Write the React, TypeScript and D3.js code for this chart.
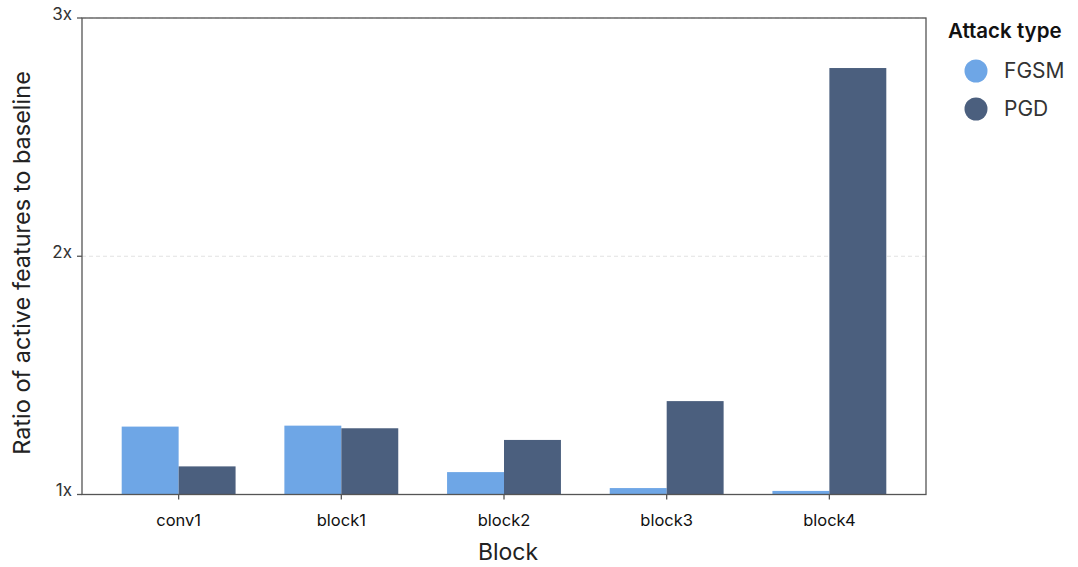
import React from "react";
import * as d3 from "d3";

const blocks = ["conv1", "block1", "block2", "block3", "block4"];
const seriesNames = ["FGSM", "PGD"];
const fgsmValues = [1.285, 1.289, 1.094, 1.027, 1.015];
const pgdValues = [1.118, 1.278, 1.229, 1.392, 2.79];
const yTicks = [1, 2, 3];
const colors = ["#6ea6e6", "#4b5f7e"];

export default function App() {
  const W = 1078, H = 567;
  const left = 82, right = 926, top = 18, bottom = 494.5;
  const x = d3.scaleBand<string>().domain(blocks).range([left, right]).paddingInner(0.3).paddingOuter(0.244);
  const xs = d3.scaleBand<string>().domain(seriesNames).range([0, x.bandwidth()]);
  const y = d3.scaleLinear().domain([1, 3]).range([bottom, top]);
  const values = [fgsmValues, pgdValues];
  const font = "Inter, 'Noto Sans', sans-serif";
  return (
    <svg width={W} height={H} style={{ position: "absolute", left: 0, top: 0, fontFamily: font }}>
      <rect width={W} height={H} fill="#fff" />
      {yTicks.map((t) => (
        <line key={"g" + t} x1={left} x2={right} y1={y(t)} y2={y(t)} stroke="#e2e2e2" strokeDasharray="4,3" />
      ))}
      {blocks.map((b, i) =>
        seriesNames.map((s, j) => (
          <rect key={b + s} x={(x(b) ?? 0) + (xs(s) ?? 0)} y={y(values[j][i])} width={xs.bandwidth()}
            height={y(1) - y(values[j][i])} fill={colors[j]} />
        ))
      )}
      <rect x={left} y={top} width={right - left} height={bottom - top} fill="none" stroke="#555" strokeWidth={1.3} />
      {yTicks.map((t) => (
        <g key={"t" + t}>
          <line x1={left - 5} x2={left} y1={y(t)} y2={y(t)} stroke="#555" strokeWidth={1.3} />
          <text x={left - 10} y={y(t)} dy="0.1em" textAnchor="end" fontSize={17} fill="#333">{t + "x"}</text>
        </g>
      ))}
      {blocks.map((b) => {
        const cx = (x(b) ?? 0) + x.bandwidth() / 2;
        return (
          <g key={"x" + b}>
            <line x1={cx} x2={cx} y1={bottom} y2={bottom + 5} stroke="#555" strokeWidth={1.3} />
            <text x={cx} y={bottom + 31} textAnchor="middle" fontSize={16.5} fill="#111">{b}</text>
          </g>
        );
      })}
      <text x={(left + right) / 2 + 4} y={560} textAnchor="middle" fontSize={23} fill="#222">Block</text>
      <text transform={`translate(30, 263) rotate(-90)`} textAnchor="middle" fontSize={23.5} fill="#222">
        Ratio of active features to baseline
      </text>
      <text x={948} y={38} fontSize={20.5} fontWeight={600} fill="#111">Attack type</text>
      {seriesNames.map((s, j) => (
        <g key={"l" + s}>
          <circle cx={976} cy={71 + j * 38} r={11.5} fill={colors[j]} />
          <text x={1004} y={71 + j * 38} dy="0.35em" fontSize={21} fill="#333">{s}</text>
        </g>
      ))}
    </svg>
  );
}
